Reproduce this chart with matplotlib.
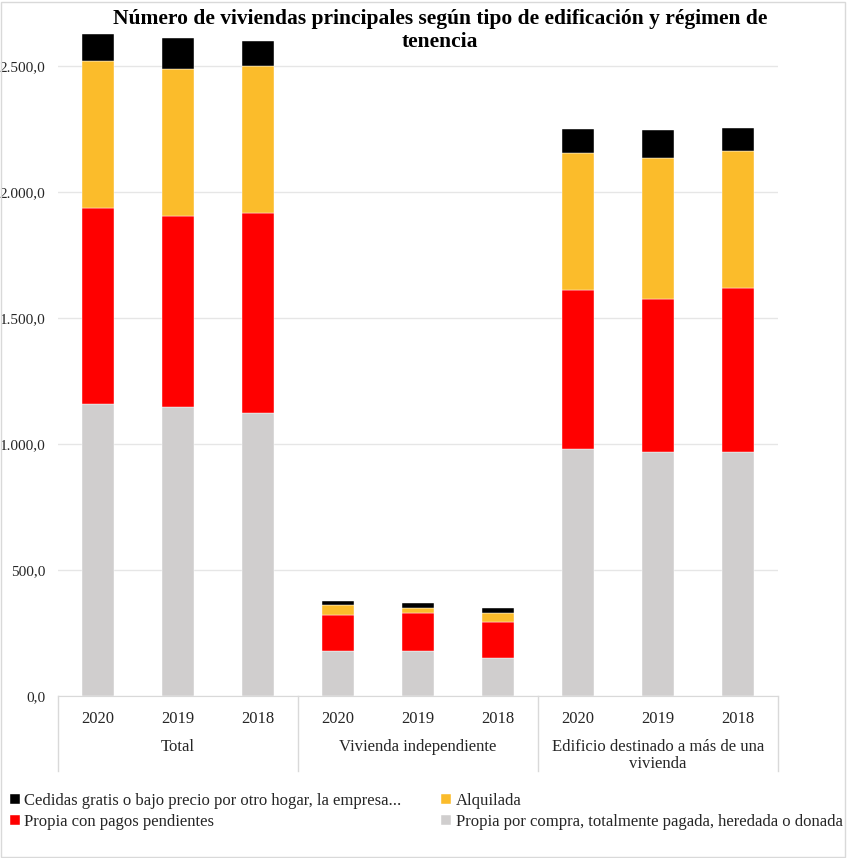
import matplotlib.pyplot as plt
import matplotlib.patches as mpatches
from matplotlib.lines import Line2D
from matplotlib.ticker import FuncFormatter
import numpy as np

plt.rcParams['font.family'] = ['Liberation Serif', 'DejaVu Serif']

years = ['2020', '2019', '2018']
groups = ['Total', 'Vivienda independiente', 'Edificio destinado a más de una\nvivienda']

# miles de viviendas, en orden: Total (2020, 2019, 2018), Vivienda ind., Edificio
propia_pagada = [1159, 1147, 1123, 178, 177, 152, 980, 967, 967]
propia_pendiente = [777, 758, 794, 143, 151, 142, 631, 607, 651]
alquilada = [584, 583, 583, 39, 21, 37, 543, 559, 545]
cedidas = [107, 123, 99, 18, 19, 17, 95, 112, 90]

series = [
    ('Propia por compra, totalmente pagada, heredada o donada', propia_pagada, '#D0CECE'),
    ('Propia con pagos pendientes', propia_pendiente, '#FF0000'),
    ('Alquilada', alquilada, '#FBBC2B'),
    ('Cedidas gratis o bajo precio por otro hogar, la empresa...', cedidas, '#000000'),
]

W, H = 847, 858
fig = plt.figure(figsize=(W / 100, H / 100), dpi=100)
ax = fig.add_axes([58 / W, (H - 696) / H, 720 / W, 667.8 / H])

x = np.arange(len(years) * len(groups))
bottom = np.zeros(len(x))
handles = {}
for name, vals, color in series:
    bars = ax.bar(x, vals, 0.41, bottom=bottom, color=color, label=name,
                  edgecolor='white', linewidth=0.3, zorder=3)
    handles[name] = bars
    bottom += np.array(vals)

ax.set_xlim(-0.5, len(x) - 0.5)
ax.set_ylim(0, 2650)
ax.set_yticks(np.arange(0, 2501, 500))
ax.yaxis.set_major_formatter(FuncFormatter(
    lambda v, p: '{:,.1f}'.format(v).replace(',', 'X').replace('.', ',').replace('X', '.')))
ax.grid(axis='y', color='#e6e6e6', linewidth=1, zorder=0)
for s in ['top', 'right', 'left']:
    ax.spines[s].set_visible(False)
ax.spines['bottom'].set_color('#d9d9d9')
ax.tick_params(axis='both', length=0, colors='#262626')
ax.tick_params(axis='y', pad=9, labelsize=11)
ax.tick_params(axis='x', pad=11, labelsize=12)
ax.set_xticks(x)
ax.set_xticklabels(years * len(groups))

# group labels and separators below the axis
trans = ax.get_xaxis_transform()
for i, g in enumerate(groups):
    ax.text(3 * i + 1, -43 / 667.8, g, transform=trans, ha='center', va='top',
            fontsize=12, color='#262626', linespacing=1.05)
for xs in [-0.5, 2.5, 5.5, 8.5]:
    ax.add_line(Line2D([xs, xs], [0, -75 / 667.8], transform=trans, color='#d9d9d9',
                       linewidth=1, clip_on=False))

fig.text(440 / W, 1 - 9 / H,
         'Número de viviendas principales según tipo de edificación y régimen de\ntenencia',
         ha='center', va='top', fontsize=15.5, fontweight='bold', linespacing=1.2)

order = [series[3][0], series[1][0], series[2][0], series[0][0]]
fig.legend([handles[n] for n in order], order, ncol=2, loc='upper left',
           bbox_to_anchor=(10 / W, 1 - 793 / H), frameon=False, fontsize=12,
           handlelength=0.6, handleheight=0.6, handletextpad=0.25,
           columnspacing=2.4, labelspacing=0.3, borderaxespad=0, borderpad=0,
           labelcolor='#262626')

fig.patches.append(mpatches.Rectangle((1 / W, 1 / H), (W - 3) / W, (H - 3) / H,
                                      transform=fig.transFigure, fill=False,
                                      edgecolor='#d9d9d9', linewidth=1))

fig.savefig('out.png', dpi=100)
